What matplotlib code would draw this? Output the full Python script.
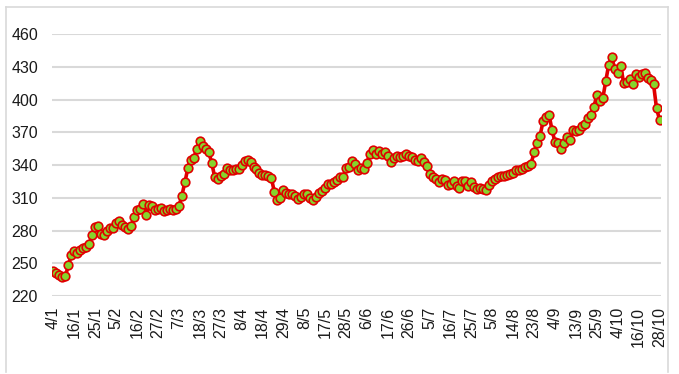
import numpy as np
import matplotlib
matplotlib.use('Agg')
import matplotlib.pyplot as plt
from matplotlib.lines import Line2D

# daily values
priceVec = [243, 241, 239, 237.5, 238.5, 248, 258, 261, 259, 262,
            264, 265, 268, 276, 283, 284, 277, 276, 280, 282,
            282, 287, 289, 285, 283, 281, 284, 292, 299, 300,
            304, 294, 303, 302, 299, 300, 301, 298, 299, 300,
            299, 300, 302, 312, 324, 337, 345, 346, 355, 362,
            357, 355, 352, 342, 329, 327, 330, 332, 337, 335,
            335, 336, 336, 340, 344, 345, 343, 338, 336, 333,
            331, 331, 330, 328, 315, 308, 310, 317, 314, 313,
            313, 312, 309, 311, 313, 313, 310, 308, 311, 314,
            316, 319, 323, 323, 324, 326, 329, 329, 337, 338,
            344, 341, 335, 337, 336, 342, 350, 354, 350, 353,
            350, 352, 348, 343, 346, 348, 347, 348, 350, 348,
            347, 345, 344, 346, 343, 339, 332, 329, 327, 324,
            327, 326, 322, 323, 325, 321, 319, 325, 325, 321,
            324, 320, 318, 319, 318, 317, 322, 325, 327, 329,
            330, 330, 331, 332, 333, 335, 335, 336, 338, 339,
            341, 352, 360, 367, 380, 384, 386, 372, 361, 360,
            355, 360, 366, 363, 372, 371, 372, 376, 378, 383,
            386, 393, 404, 399, 401, 417, 432, 439, 428, 424,
            431, 415, 416, 419, 414, 423, 421, 423, 424, 420,
            418, 414, 392, 381.6]

dateLabels = ['4/1', '16/1', '25/1', '5/2', '16/2', '27/2', '7/3', '18/3', '27/3', '8/4',
              '18/4', '29/4', '8/5', '17/5', '28/5', '6/6', '17/6', '26/6', '5/7', '16/7',
              '25/7', '5/8', '14/8', '23/8', '4/9', '13/9', '25/9', '4/10', '16/10', '28/10']
labelStep = 7

yTicks = [220, 250, 280, 310, 340, 370, 400, 430, 460]

plt.rcParams['font.family'] = ['Liberation Sans', 'DejaVu Sans']

fig = plt.figure(figsize=(6.79, 3.74), dpi=100)
ax = fig.add_axes([52/679, 1-296/374, 609/679, 262/374])

idx = np.arange(len(priceVec))
ax.plot(idx, priceVec, color='#e00000', lw=2.6, marker='o', ms=6.2,
        mfc='#86d42c', mec='#e00000', mew=1.2, zorder=3)

ax.set_ylim(220, 460)
ax.set_yticks(yTicks)
ax.set_xlim(-0.5, len(priceVec) - 0.5)
ax.set_xticks(idx[::labelStep])
ax.set_xticklabels(dateLabels, rotation=90)
ax.tick_params(axis='both', length=0, labelsize=11.5, colors='#1a1a1a')
ax.tick_params(axis='y', pad=10)
ax.tick_params(axis='x', pad=8)
ax.grid(axis='y', color='#d9d9d9', lw=1.5, zorder=0)
for s in ax.spines.values():
    s.set_visible(False)

# light outer frame of the chart box
frameColor = '#d9d9d9'
fig.add_artist(Line2D([6/679, 6/679], [1-7/374, 1-372/374], color=frameColor, lw=1.2))
fig.add_artist(Line2D([668/679, 668/679], [1-7/374, 1-372/374], color=frameColor, lw=1.2))
fig.add_artist(Line2D([6/679, 668/679], [1-7/374, 1-7/374], color=frameColor, lw=1.2))

plt.savefig('out.png', dpi=100)
